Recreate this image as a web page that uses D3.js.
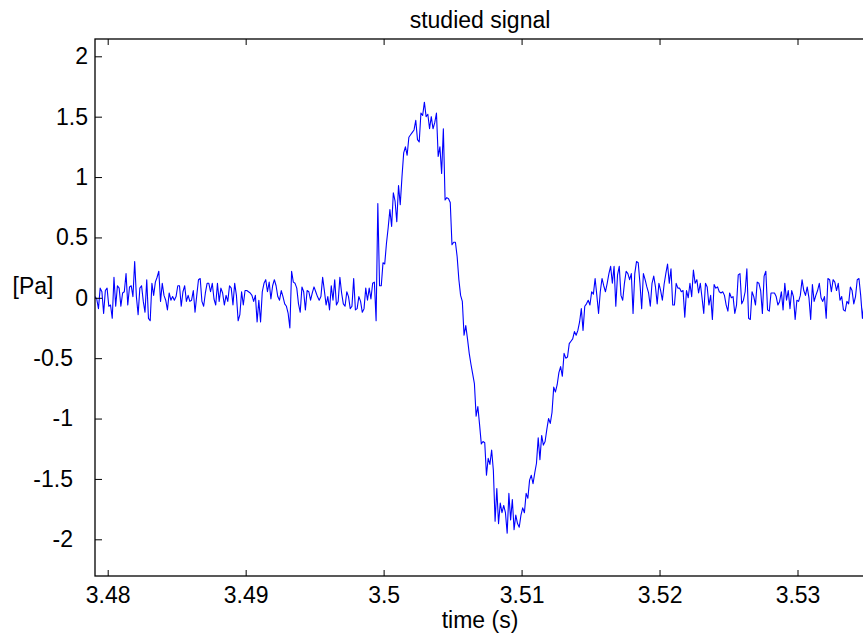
<!DOCTYPE html>
<html>
<head>
<meta charset="utf-8">
<script src="https://cdn.jsdelivr.net/npm/d3@7"></script>
<style>
  html, body { margin: 0; padding: 0; background: #fff; }
  svg { display: block; }
  text { font-family: "Liberation Sans", Arial, Helvetica, sans-serif; fill: #000; }
</style>
</head>
<body>
<svg id="chart" width="863" height="633"></svg>
<script>
// ---------------- data ----------------
const chartTitle = "studied signal";
const xLabel = "time (s)";
const yLabel = "[Pa]";
const sampleStart = 3.47908;      // time of first sample (s)
const sampleInterval = 0.000125;  // 8 kHz sampling
const xTicks = [3.48, 3.49, 3.50, 3.51, 3.52, 3.53];
const xTickLabels = ["3.48", "3.49", "3.5", "3.51", "3.52", "3.53"];
const yTicks = [-2, -1.5, -1, -0.5, 0, 0.5, 1, 1.5, 2];
const yTickLabels = ["-2", "-1.5", "-1", "-0.5", "0", "0.5", "1", "1.5", "2"];

const baselineBefore = [
  0.01, -0.01, -0.09, 0.08, 0.05, -0.13, 0.06, 0.08, -0.07, -0.06,
  -0.17, 0.17, -0.07, 0.10, 0.08, -0.07, 0.04, 0.05, 0.20, -0.06,
  0.09, 0.10, 0.01, 0.30, 0.01, -0.14, 0.08, 0.10, -0.03, -0.12,
  0.15, -0.17, -0.19, 0.12, 0.02, 0.13, 0.17, 0.22, -0.03, 0.12,
  0.02, -0.02, -0.10, 0.04, -0.02, 0.01, -0.02, 0.01,
  0.10, 0.10, -0.07, 0.05, 0.10, -0.03, 0.02, -0.03, -0.02, 0.06,
  -0.12, 0.02, 0.15, 0.16, -0.03, -0.07, 0.04, 0.12, 0.12, 0.05,
  0.12, -0.01, -0.06, 0.12, -0.03, 0.08, 0.04, -0.06, 0.02, -0.03,
  0.10, 0.08, -0.06, 0.12, 0.02, -0.19, -0.14, 0.05, -0.06, 0.06,
  0.06, 0.05, 0.04, 0.02, -0.03, 0.02, -0.20, -0.02,
  -0.20, 0.05, 0.12, 0.15, 0.05, 0.13, -0.01, 0.10, 0.15, 0.10,
  0.01, -0.02, 0.06, 0.01, -0.05, -0.07, -0.13, -0.25, 0.22, 0.13,
  0.12, 0.08, -0.05, -0.12, 0.09, 0.05, -0.10, 0.06, 0.05, -0.02,
  0.04, 0.09, 0.05, 0.01, -0.02, 0.01, 0.17, 0.06,
  -0.06, 0.01, -0.10, 0.10, -0.02, 0.15, -0.06, -0.03, 0.17, 0.04,
  -0.05, -0.07, 0.05, 0.01, -0.09, -0.07, 0.16, -0.10, -0.09, 0.01,
  -0.03, -0.12, -0.09, 0.08, -0.02, 0.08, -0.01, 0.12, 0.13, -0.19
];
const pulse = [
  0.78, 0.10, 0.10, 0.29, 0.28, 0.45, 0.58, 0.73, 0.59, 0.87,
  0.80, 0.63, 0.93, 0.77, 1.00, 1.20, 1.25, 1.18, 1.33, 1.35,
  1.37, 1.39, 1.47, 1.31, 1.29, 1.53, 1.51, 1.62, 1.50, 1.52,
  1.40, 1.50, 1.40, 1.45, 1.53, 1.17, 1.25, 1.03, 1.40, 0.81,
  0.83, 0.82, 0.79, 0.44, 0.46, 0.46, 0.34, 0.15, 0.02, -0.03,
  -0.31, -0.23, -0.34, -0.46, -0.55, -0.63, -0.71, -0.98, -0.90, -1.05,
  -1.21, -1.19, -1.20, -1.47, -1.33, -1.38, -1.26, -1.43, -1.85, -1.58,
  -1.87, -1.70, -1.78, -1.72, -1.78, -1.95, -1.62, -1.84, -1.67, -1.92,
  -1.80, -1.87, -1.90, -1.80, -1.74, -1.78, -1.62, -1.66, -1.51, -1.47,
  -1.54, -1.45, -1.37, -1.16, -1.34, -1.14, -1.22, -1.19, -1.09, -1.00,
  -1.04, -0.95, -0.74, -0.78, -0.72, -0.62, -0.57, -0.65, -0.46, -0.50,
  -0.49, -0.38, -0.36, -0.34, -0.28, -0.31, -0.27, -0.20, -0.09, -0.27,
  -0.07, -0.05, -0.02, -0.06, 0.05, 0.03, 0.16, 0.02, -0.13, 0.05,
  0.16, 0.10, 0.05, 0.12, 0.20
];
const baselineAfter = [
  0.26, 0.12, 0.26, -0.07, 0.19, 0.26, 0.02, -0.02, 0.12, 0.22,
  0.20, 0.15, 0.20, -0.13, 0.20, 0.30, 0.29, 0.12, -0.09, 0.20,
  0.15, 0.09, 0.04, -0.07, 0.12, 0.18, 0.09, -0.05, 0.12, 0.06,
  -0.02, 0.11, 0.20, 0.28, 0.12, 0.24, -0.06, -0.06, 0.12, 0.08,
  0.08, 0.05, 0.06, -0.16, 0.06, 0.00, 0.12, 0.01, 0.23, 0.12,
  0.15, 0.04, 0.12, 0.00, -0.13, 0.12, 0.09, -0.06, 0.02, -0.18,
  0.11, 0.08, 0.09, 0.05, 0.04, 0.05, 0.02, -0.06, -0.11, 0.04,
  0.00, 0.01, -0.13, -0.06, 0.19, 0.20, -0.05, -0.02, 0.05, 0.24,
  -0.17, -0.18, 0.05, 0.01, -0.06, 0.13, 0.12, 0.06, -0.13, 0.18,
  0.22, -0.10, -0.11, 0.04, 0.04, 0.04, 0.01, -0.06, -0.03, 0.05,
  -0.10, 0.12, -0.02, 0.06, -0.09, 0.06, 0.01, -0.18, -0.02, -0.03,
  0.02, 0.15, 0.06, 0.02, 0.09, 0.00, -0.18, 0.11, -0.03, 0.02,
  0.06, 0.12, 0.00, -0.03, 0.01, -0.17, 0.16, 0.15, 0.05, 0.15,
  0.13, 0.06, 0.12, -0.02, 0.01, -0.10, -0.11, -0.03, -0.05, 0.09,
  0.06, -0.05, 0.01, 0.15, 0.16, 0.02, -0.17, -0.03
];
const pressure = baselineBefore.concat(pulse, baselineAfter);

// ---------------- layout ----------------
const svg = d3.select("#chart");
const plot = { left: 95, right: 865, top: 39, bottom: 576 };

const x = d3.scaleLinear().domain([3.48, 3.53]).range([107.7, 797.5]);
const y = d3.scaleLinear().domain([-2, 2]).range([539.3, 56.3]);

svg.append("defs").append("clipPath").attr("id", "clip")
  .append("rect")
  .attr("x", plot.left).attr("y", plot.top)
  .attr("width", plot.right - plot.left).attr("height", plot.bottom - plot.top);

// signal
const line = d3.line()
  .x((d, i) => x(sampleStart + i * sampleInterval))
  .y(d => y(d));

svg.append("path")
  .datum(pressure)
  .attr("clip-path", "url(#clip)")
  .attr("fill", "none")
  .attr("stroke", "#0000ff")
  .attr("stroke-width", 1.1)
  .attr("stroke-linejoin", "round")
  .attr("d", line);

// axes (inward ticks)
const fmtX = d => xTickLabels[xTicks.indexOf(d)];
const fmtY = d => yTickLabels[yTicks.indexOf(d)];

const gBottom = svg.append("g")
  .attr("transform", `translate(0,${plot.bottom})`)
  .call(d3.axisBottom(x).tickValues(xTicks).tickFormat(fmtX).tickSize(-6).tickPadding(11));
const gTop = svg.append("g")
  .attr("transform", `translate(0,${plot.top})`)
  .call(d3.axisTop(x).tickValues(xTicks).tickFormat("").tickSize(-6));
const gLeft = svg.append("g")
  .attr("transform", `translate(${plot.left},0)`)
  .call(d3.axisLeft(y).tickValues(yTicks).tickFormat(fmtY).tickSize(-7).tickPadding(7));

[gBottom, gTop, gLeft].forEach(g => {
  g.select(".domain").remove();
  g.selectAll(".tick line").attr("stroke", "#000").attr("stroke-width", 1);
  g.selectAll(".tick text").style("font-size", "23px").attr("fill", "#000");
  g.attr("font-family", null).attr("font-size", null);
});
gLeft.selectAll(".tick text").filter(d => d < 0).attr("x", -22);

// frame
svg.append("rect")
  .attr("x", plot.left).attr("y", plot.top)
  .attr("width", plot.right - plot.left).attr("height", plot.bottom - plot.top)
  .attr("fill", "none").attr("stroke", "#000").attr("stroke-width", 1.3);

// titles
svg.append("text").attr("x", 480).attr("y", 28).attr("text-anchor", "middle")
  .style("font-size", "23px").text(chartTitle);
svg.append("text").attr("x", 480).attr("y", 628).attr("text-anchor", "middle")
  .style("font-size", "23px").text(xLabel);
svg.append("text").attr("x", 33).attr("y", 294).attr("text-anchor", "middle")
  .style("font-size", "23px").text(yLabel);
</script>
</body>
</html>
